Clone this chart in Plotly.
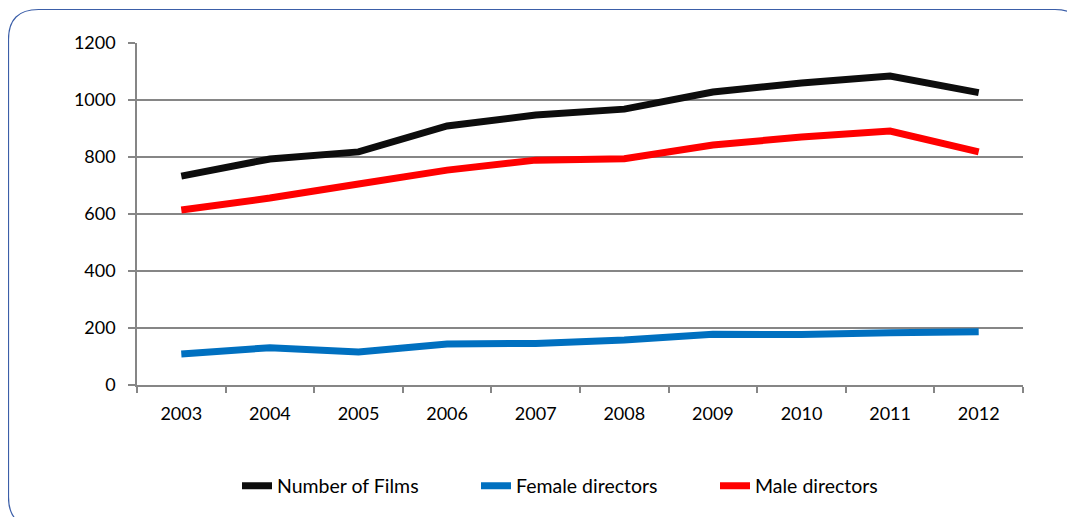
import plotly.graph_objects as go

years = ["2003", "2004", "2005", "2006", "2007", "2008", "2009", "2010", "2011", "2012"]
films = [733, 793, 818, 909, 947, 968, 1028, 1060, 1084, 1026]
female = [109, 131, 116, 144, 146, 158, 178, 177, 183, 187]
male = [614, 656, 705, 754, 789, 794, 842, 870, 891, 818]

# page body has an 8px margin; all pixel targets below are screen coordinates
OFF = 8
W, H = 1075, 517
L, T = 137 - OFF, 43 - OFF
R = W - (1023 - OFF)
B = H - (385 - OFF)
pw, ph = W - L - R, H - T - B

def px(x):
    return (x - OFF - L) / pw

def py(y):
    return (H - B - (y - OFF)) / ph

fig = go.Figure()
fig.add_trace(go.Scatter(x=years, y=films, mode="lines", name="Number of Films",
                         line=dict(color="#0d0d0d", width=7)))
fig.add_trace(go.Scatter(x=years, y=female, mode="lines", name="Female directors",
                         line=dict(color="#0070c0", width=7)))
fig.add_trace(go.Scatter(x=years, y=male, mode="lines", name="Male directors",
                         line=dict(color="#ff0000", width=7)))

# rounded border
x0, y0, x1, y1, r = 8.5, 9.5, 1085, 527, 30
path = (f"M {px(x0)},{py(y0 + r)} Q {px(x0)},{py(y0)} {px(x0 + r)},{py(y0)} "
        f"L {px(x1 - r)},{py(y0)} Q {px(x1)},{py(y0)} {px(x1)},{py(y0 + r)} "
        f"L {px(x1)},{py(y1 - r)} Q {px(x1)},{py(y1)} {px(x1 - r)},{py(y1)} "
        f"L {px(x0 + r)},{py(y1)} Q {px(x0)},{py(y1)} {px(x0)},{py(y1 - r)} Z")
fig.add_shape(type="path", path=path, xref="paper", yref="paper",
              line=dict(color="#3b5ea8", width=1.2), layer="below")

font = dict(family="Lato, Calibri, sans-serif", size=18, color="#000000")
legend_font = dict(family="Lato, Calibri, sans-serif", size=19.5, color="#000000")

fig.update_layout(
    width=W, height=H,
    margin=dict(l=L, r=R, t=T, b=B),
    paper_bgcolor="white", plot_bgcolor="white",
    font=font,
    showlegend=True,
    legend=dict(orientation="h", x=px(237), xanchor="left", y=py(486), yanchor="middle",
                entrywidth=194, entrywidthmode="pixels", font=legend_font,
                bgcolor="rgba(0,0,0,0)", itemwidth=30),
    xaxis=dict(type="category", range=[-0.5, 9.5], showgrid=False, showline=True,
               linecolor="#868686", linewidth=1.5, ticks="outside", tickson="boundaries",
               ticklen=6, tickcolor="#868686", tickwidth=1.5, tickfont=font,
               ticklabelstandoff=12, zeroline=False),
    yaxis=dict(range=[0, 1200], tickvals=[0, 200, 400, 600, 800, 1000, 1200],
               showgrid=True, gridcolor="#868686", gridwidth=1.5, showline=True,
               linecolor="#868686", linewidth=1.5, ticks="outside", ticklen=7,
               tickcolor="#868686", tickwidth=1.5, tickfont=font, zeroline=False,
               ticklabelstandoff=9),
)

fig.write_html("out.html")
